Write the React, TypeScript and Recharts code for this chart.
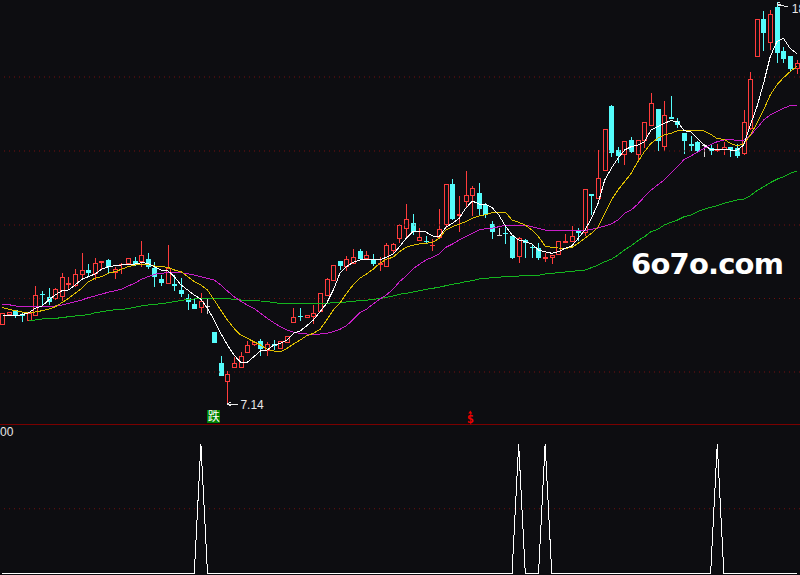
import React from 'react';
import { Bar, ComposedChart, Line, ReferenceDot, ReferenceLine, XAxis, YAxis } from 'recharts';

// heights on the chart's log price scale (0 = panel floor)
const opens = [99.7, 110, 115, 110.7, 104, 109.3, 131.3, 128, 126.3, 128.3, 140.3, 139, 150.3, 155, 151, 162, 165, 152.3, 160, 160.7, 163.7, 163.3, 165.7, 157, 146, 141.3, 141, 135, 126.7, 120.7, 117.3, 119, 92.7, 61.7, 43.3, 56.7, 56.7, 72.3, 80, 83.7, 74.3,
  81, 76, 82.3, 102.3, 109, 106.7, 107.7, 113.3, 129.3, 144.3, 163.7, 158.3, 161, 174, 165.7, 165.7, 160, 158.3, 174.3, 185.7, 195.7, 201.7, 184.3, 183.7, 179, 187.3, 199.7, 241, 209.3, 222.7, 229.3, 231.7, 220, 201, 189.7, 192, 189, 167.7, 185, 178.3, 176.7,
  166.3, 167.3, 169.7, 182.3, 183.3, 194, 191.7, 230.7, 226.3, 254.3, 319.3, 275, 269.7, 285, 270.3, 284.3, 299.3, 316, 278.3, 308, 303.7, 291.7, 280.7, 283, 279.7, 277, 274, 275, 278, 276.7, 271.3, 295.7, 368.3, 406, 381.7, 418.3, 374, 369, 355.7];
const closes = [112.3, 113.3, 109, 108.7, 111.7, 129.7, 130, 123, 135.7, 147.7, 142.3, 150.7, 154.7, 151.7, 161.7, 164.3, 157.7, 155.7, 161, 166.7, 160.7, 170, 158.3, 148.3, 142.3, 157.3, 139, 131.3, 123.3, 116.3, 123.7, 119, 82.3, 49.3, 50.7, 61.7, 69.3, 79.7, 82.7, 76, 80.7,
  79.3, 84.3, 89, 108.3, 107.7, 109.7, 112.3, 131.7, 146, 159.7, 159, 165.7, 167.7, 165.7, 169.7, 161, 161.7, 179.7, 181, 199.7, 205.7, 193, 187.7, 182.7, 180, 195.7, 240.7, 206, 211, 229.7, 236.7, 216.3, 210, 193.3, 189.7, 191, 167, 186.7, 181.7, 176.7, 167,
  168, 169.7, 184.3, 183.7, 188.7, 192.3, 235.7, 229.3, 246.7, 295.7, 272, 269, 283.7, 273.3, 285, 302.7, 321.7, 284, 309.7, 306, 300, 284, 279.3, 274, 279.7, 274.3, 275, 278, 275, 269.3, 302.7, 345.7, 405.7, 391.7, 410.7, 372.3, 366, 356, 361.7];
const highs = [112.3, 113.3, 115, 112.3, 111.7, 139, 134, 136.7, 136.7, 151.7, 147.7, 155.7, 172, 160.7, 167, 164.3, 165.7, 158.3, 162.3, 166.7, 167.7, 184, 171.7, 163.3, 150, 180, 150, 146.7, 131, 126.3, 131.7, 126, 92.7, 69, 54.3, 67.7, 72.7, 84, 84.3, 86, 82.7,
  85, 84.3, 89, 116.7, 116.7, 109.7, 120, 131.7, 146.7, 159.7, 163.7, 169, 175.7, 176.3, 174, 171, 167.7, 181.7, 182.3, 200.7, 221, 211, 197, 189, 185.7, 216, 240.7, 246, 229, 254, 239.3, 242.3, 221.7, 204, 196.7, 200, 189, 188.3, 185.7, 181, 181.7,
  171.7, 169.7, 184.3, 191, 199, 196.7, 235.7, 230.7, 275, 295.7, 320, 278.3, 283.7, 288.3, 285, 302.7, 331.7, 316, 323.7, 329, 306.7, 291.7, 289, 283.7, 281, 281, 281, 283.3, 278, 281, 315, 353, 405.7, 414, 415, 423, 377.7, 369, 365];
const lows = [99.7, 110, 106.7, 103.3, 104, 109.3, 120, 120, 125, 124, 136, 138.3, 146.7, 149, 145, 156, 151.7, 146, 151, 160.7, 159.3, 158.3, 156, 138.3, 139, 141.3, 134, 128.3, 115, 116.3, 112.3, 111, 82.3, 49.3, 21, 56.7, 56.7, 72.3, 79, 69.3, 69.3,
  75, 76, 82.3, 102.3, 104.3, 106.7, 101, 113.3, 129.3, 144.3, 155, 153.7, 161, 165.7, 165, 159, 154.3, 158.3, 171.7, 182.3, 185.7, 189.7, 184.3, 181, 174.3, 187.3, 196.7, 205, 193, 218.3, 209, 209, 206.7, 186, 189.3, 181, 166.3, 162.3, 167, 166.7, 165,
  163.3, 161, 169.7, 182.3, 183.3, 184.3, 189, 210, 226.3, 254.3, 268.3, 261.7, 260, 271.7, 264, 277.3, 299.3, 274, 274, 306, 296.7, 271.3, 274, 273.3, 268.3, 270, 273, 270, 268, 267.3, 270.3, 295, 368.3, 374.3, 375, 361.7, 362.3, 354, 351];
const ma5 = [110, 109.7, 109.3, 110.3, 112.3, 116.7, 119, 125, 130, 134.3, 135, 140, 145.7, 148.3, 151, 155.7, 158.3, 159.3, 160, 161, 161, 162.3, 161.7, 158.3, 155, 154.3, 148.3, 140, 135, 130, 125.7, 116.7, 105, 91.7, 80, 70, 62.7, 62.7, 68.3, 74, 75,
  80, 81.7, 85, 91.7, 94, 99.3, 105, 113.3, 121.7, 135, 151.7, 158.3, 162.7, 165, 165.7, 165.3, 165, 167.7, 170.7, 178.3, 186.7, 193.3, 193.7, 193, 189, 188.3, 197.7, 201.7, 206.7, 216.7, 224, 221, 220.7, 217.3, 210, 199, 190, 185, 183.3, 181, 175,
  173.3, 171.7, 173.3, 176.7, 179, 186.7, 195, 206.7, 221.7, 245, 256.7, 266.7, 275, 278.3, 280, 283.3, 295, 298.3, 301.7, 304.3, 303.3, 294.3, 293.3, 286.7, 280, 275.7, 275.7, 275.7, 275, 275, 280, 300, 318.3, 341.7, 368.3, 383.3, 386.7, 376.7, 371.7];
const ma10 = [117.3, 115.7, 114.3, 113, 112.3, 113, 114.3, 115.7, 118.3, 122.3, 126.7, 131.7, 136.7, 143.3, 146.7, 148.3, 151.7, 153.3, 155.7, 158.3, 160, 160.7, 160.7, 159, 158.3, 157.7, 155, 153.3, 148.3, 143.3, 140, 135, 125, 115, 105, 96.7, 90, 86.7, 83.3, 80, 75.7,
  74, 73, 76.7, 81, 85, 89.3, 91.7, 95.7, 105, 115, 121.7, 131.7, 140, 146.7, 151, 155.7, 161.7, 165.7, 167.7, 173.3, 177.7, 179.7, 181, 181.7, 182.7, 186.7, 195, 198.3, 200.7, 203.3, 206.7, 209, 210.3, 212.3, 212.3, 212.7, 205, 202.7, 200, 195, 188.3,
  179, 177.7, 177, 176.7, 177.3, 181.7, 186.7, 191.7, 198.3, 211.7, 225, 235, 243.3, 251.7, 263.3, 273.3, 281.7, 286.7, 290, 291.7, 294.3, 295, 295, 294.3, 294, 290.7, 286.3, 285.7, 281.7, 279, 281, 290, 301.7, 315, 330, 340, 347.3, 353.3, 358.3];
const ma30 = [120.7, 120.3, 119, 118.3, 118.3, 118.3, 118.3, 118.3, 119, 120, 121.7, 123.3, 125, 127.3, 129, 131, 132.7, 134.3, 135.7, 139, 141.7, 145.7, 148.3, 150.7, 151.7, 152.3, 152.3, 152.3, 151.3, 150, 148.3, 146.7, 145, 140, 134, 128.3, 124, 120, 116.7, 111.7, 106.7,
  102.3, 98.3, 95, 92.7, 91.7, 91, 90.7, 91, 91.7, 93.3, 95.7, 99.3, 105.7, 112.3, 115.7, 121, 125.7, 130, 135.7, 143.3, 149, 156, 160.7, 165, 167.7, 171, 177.7, 181, 185, 188.3, 191.7, 195, 196.3, 196.7, 198.3, 199.7, 199.7, 199.7, 199.7, 198.3, 196.7,
  195, 194.7, 194.7, 194.7, 194.7, 194, 194.3, 195.7, 197, 199, 201, 205, 211.7, 215, 221, 228.3, 235, 240, 245, 251.7, 258.3, 265.7, 269, 272.7, 276.7, 280.3, 283.3, 285, 285.7, 284.3, 285, 290, 296.7, 305, 310, 313.3, 316.7, 319.3, 320];
const ma60 = [null, null, null, null, 104, 105, 106, 106.3, 106.7, 107.3, 108.3, 109, 109.7, 110.3, 112.3, 113.3, 114.3, 115.3, 115.7, 116.3, 117.7, 119, 120, 120.7, 121.3, 122.3, 123.3, 124.7, 125.3, 126, 126.3, 126.7, 126.7, 126.7, 126.3, 125.7, 125, 124.7, 124.3, 124, 123.7,
  122.3, 121.7, 121.3, 121.3, 121.3, 121.3, 121.3, 121.3, 121.7, 122.3, 122.7, 123, 123.7, 124.3, 124.7, 125.7, 126.3, 127.7, 129, 130.7, 131.7, 133, 134.3, 135.7, 136.7, 137.7, 139.3, 140.7, 141.7, 143.3, 144.3, 146, 146.7, 147.3, 147.7, 148.7, 149, 149, 149.3, 149.7, 149.7,
  151, 151.7, 152.3, 153, 153.7, 154.3, 155, 157.3, 160, 163.3, 165.7, 170, 175, 179.3, 184.3, 188.3, 193.3, 195.7, 200, 202.7, 205, 208.3, 210, 213.3, 215.7, 217.7, 219.3, 221.7, 223.3, 225, 226, 229.3, 234.3, 238.3, 242.3, 245.7, 248.3, 251.7, 254];
const signalDays = [30, 78, 82, 108];
const priceGrid = [53, 126.5, 200, 274, 348];
const lowDay = 34;
const highDay = 117;
const lowLabel = '7.14';
const highLabel = '18';

const rows = opens.map((open, i) => ({
  day: i,
  open,
  close: closes[i],
  range: [lows[i], highs[i]],
  ma5: ma5[i],
  ma10: ma10[i],
  ma30: ma30[i],
  ma60: ma60[i],
}));
const signalRows = opens.map((_, i) => ({ day: i, signal: signalDays.includes(i) ? 1 : 0 }));

const BG = '#0d0d11';
const RED = '#ff3c3c';
const CYAN = '#54fcfc';
const DARK_RED = '#7a0000';
const DOT_RED = '#761010';

const Candle = (props: any) => {
  const { x, y, width, height, payload } = props;
  const [low, high] = payload.range;
  const perUnit = height / (high - low);
  const at = (v: number) => Math.round(y + (high - v) * perUnit);
  const cx = Math.floor(x + width / 2 + 0.2);
  const top = at(Math.max(payload.open, payload.close));
  const bottom = at(Math.min(payload.open, payload.close));
  const hi = at(high);
  const lo = at(low);
  const up = payload.close > payload.open;
  const color = payload.close === payload.open ? '#d8d8d8' : up ? RED : CYAN;
  return (
    <g shapeRendering="crispEdges">
      <rect x={cx} y={hi} width={1} height={Math.max(lo - hi, 1)} fill={color} />
      {payload.close === payload.open ? (
        <rect x={cx - 2} y={top} width={5} height={1} fill={color} />
      ) : up && bottom - top > 2 ? (
        <rect x={cx - 2 + 0.5} y={top + 0.5} width={4} height={bottom - top - 1} fill={BG} stroke={color} />
      ) : (
        <rect x={cx - 2} y={top} width={5} height={Math.max(bottom - top, 1)} fill={color} />
      )}
    </g>
  );
};

const priceTag = (text: string, slope: number, baseline: number, gap: number) => (props: any) => {
  const { x, y } = props.viewBox;
  return (
    <g>
      <path d={`M${x} ${y}l11 ${slope}M${x} ${y}l3 -2M${x} ${y}l3 2`} stroke="#e8e8e8" fill="none" shapeRendering="crispEdges" />
      <text x={x + gap} y={y + baseline} fill="#e8e8e8" fontSize={12} fontFamily="'Liberation Sans'">
        {text}
      </text>
    </g>
  );
};

const FallTag = (props: any) => {
  const { x, y } = props.viewBox;
  return (
    <g>
      <rect x={x - 7} y={y - 7} width={13} height={13} fill="#008000" shapeRendering="crispEdges" />
      <text x={x - 0.5} y={y + 4} textAnchor="middle" fill="#ffffff" fontSize={12} fontFamily="'Noto Sans CJK SC'">
        跌
      </text>
    </g>
  );
};

const DollarTag = (props: any) => {
  const { x, y } = props.viewBox;
  return (
    <g fill="#f00000">
      <path d={`M${x - 4} ${y - 3}l2 -3l2 3z`} />
      <text x={x - 2} y={y + 6} textAnchor="middle" fontSize={12} fontWeight="bold" fontFamily="'DejaVu Sans Mono'">
        $
      </text>
    </g>
  );
};

const lineProps = { type: 'linear' as const, dot: false, activeDot: false, strokeWidth: 1, isAnimationActive: false, style: { shapeRendering: 'crispEdges' as const } };

export default function App() {
  return (
    <div style={{ position: 'absolute', left: 0, top: 0, width: 800, height: 575, overflow: 'hidden', background: BG }}>
      <div style={{ position: 'absolute', left: -1, top: 0 }}>
        <ComposedChart width={801} height={425} data={rows} margin={{ top: 0, right: 0, bottom: 0, left: 0 }} barCategoryGap={0}>
          <XAxis dataKey="day" hide />
          <YAxis hide domain={[0, 425]} />
          {priceGrid.map((level) => (
            <ReferenceLine key={level} y={level} stroke={DOT_RED} strokeDasharray="1 4" />
          ))}
          <ReferenceLine y={0.5} stroke={DARK_RED} />
          <Bar dataKey="range" shape={<Candle />} isAnimationActive={false} />
          <Line dataKey="ma60" stroke="#14b41e" {...lineProps} />
          <Line dataKey="ma30" stroke="#c81ec8" {...lineProps} />
          <Line dataKey="ma10" stroke="#e0c000" {...lineProps} />
          <Line dataKey="ma5" stroke="#ffffff" {...lineProps} />
          <ReferenceDot x={lowDay} y={21} r={0} fill="none" stroke="none" label={priceTag(lowLabel, 0, 5, 13)} />
          <ReferenceDot x={highDay} y={421} r={0} fill="none" stroke="none" label={priceTag(highLabel, 3, 9, 15)} />
          <ReferenceDot x={32} y={8.5} r={0} fill="none" stroke="none" label={FallTag} />
          <ReferenceDot x={71} y={8.5} r={0} fill="none" stroke="none" label={DollarTag} />
        </ComposedChart>
      </div>
      <div style={{ position: 'absolute', left: -1, top: 425 }}>
        <ComposedChart width={801} height={150} data={signalRows} margin={{ top: 19, right: 0, bottom: 1.5, left: 0 }} barCategoryGap={0}>
          <XAxis dataKey="day" hide scale="band" />
          <YAxis hide domain={[0, 1]} />
          <ReferenceLine y={0.5} stroke={DOT_RED} strokeDasharray="1 4" />
          <Line dataKey="signal" stroke="#ffffff" {...lineProps} />
        </ComposedChart>
      </div>
      <div style={{ position: 'absolute', left: 0, top: 425, color: '#e8e8e8', font: "12px 'Liberation Sans'" }}>00</div>
      <div style={{ position: 'absolute', left: 631, top: 247, color: '#ffffff', font: "bold 29px 'DejaVu Sans'", letterSpacing: -0.8, whiteSpace: 'nowrap' }}>6o7o.com</div>
    </div>
  );
}
